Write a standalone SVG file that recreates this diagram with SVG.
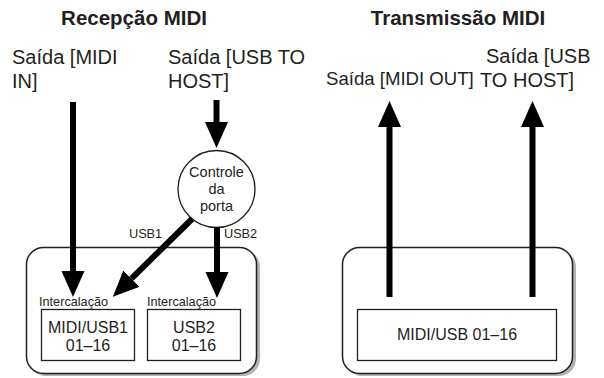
<svg xmlns="http://www.w3.org/2000/svg" width="604" height="378" viewBox="0 0 604 378">
<style>
text{font-family:"Liberation Sans",Arial,sans-serif;fill:#231f20}
.t{font-weight:bold;font-size:20.5px;text-anchor:middle}
.s{font-size:20px}
.m{font-size:16px;text-anchor:middle}
.c{font-size:14.5px;text-anchor:middle}
.i{font-size:12.7px}
.frame{fill:#fff;stroke:#231f20;stroke-width:1.5}
.shadow{fill:#b3b3b3}
.box{fill:#fff;stroke:#231f20;stroke-width:1.3}
.ar{stroke:#000;stroke-width:6;fill:none}
</style>
<defs>
<marker id="h" markerUnits="userSpaceOnUse" markerWidth="26" markerHeight="24" refX="0" refY="11.5" orient="auto">
<path d="M0,0 L26,11.5 L0,23 Z" fill="#000"/>
</marker>
</defs>
<text class="t" x="134" y="25">Recepção MIDI</text>
<text class="t" x="458" y="25">Transmissão MIDI</text>
<g id="src-midi-in"><text class="s" x="12" y="64">Saída [MIDI</text><text class="s" x="12" y="88">IN]</text></g>
<g id="src-usb-host"><text class="s" x="168" y="64">Saída [USB TO</text><text class="s" x="168" y="88">HOST]</text></g>
<g id="dst-midi-out"><text class="s" x="326" y="85" style="font-size:18.6px">Saída [MIDI OUT]</text></g>
<g id="dst-usb-host"><text class="s" x="486" y="63">Saída [USB</text><text class="s" x="480" y="87">TO HOST]</text></g>
<g id="recv-frame"><rect class="shadow" x="29" y="250" width="231" height="126" rx="17"/><rect class="frame" x="26.5" y="247.5" width="230" height="126" rx="17"/></g>
<g id="send-frame"><rect class="shadow" x="345" y="250" width="231" height="126" rx="17"/><rect class="frame" x="342.5" y="247.5" width="230" height="126" rx="17"/></g>
<g id="port-control"><circle cx="216.5" cy="189" r="38.5" fill="#fff" stroke="#231f20" stroke-width="1.3"/><text class="c" x="216.5" y="177">Controle</text><text class="c" x="216.5" y="194">da</text><text class="c" x="216.5" y="211">porta</text></g>
<g id="part-midi-usb1"><text class="i" x="39" y="306">Intercalação</text><rect class="box" x="41.5" y="309.5" width="93" height="51"/><text class="m" x="88" y="333">MIDI/USB1</text><text class="m" x="88" y="351">01–16</text></g>
<g id="part-usb2"><text class="i" x="147" y="306">Intercalação</text><rect class="box" x="147.5" y="309.5" width="93" height="51"/><text class="m" x="194" y="333">USB2</text><text class="m" x="194" y="351">01–16</text></g>
<g id="part-send"><rect class="box" x="357.5" y="309.5" width="199" height="51"/><text class="m" x="457" y="340">MIDI/USB 01–16</text></g>
<g id="connectors">
<line class="ar" x1="73" y1="102" x2="73" y2="271" marker-end="url(#h)"/>
<line class="ar" x1="216.5" y1="100" x2="216.5" y2="122" marker-end="url(#h)"/>
<line class="ar" x1="192" y1="219" x2="131.4" y2="278.6" marker-end="url(#h)"/>
<line class="ar" x1="217" y1="227" x2="217" y2="272" marker-end="url(#h)"/>
<line class="ar" x1="389.5" y1="297" x2="389.5" y2="127" marker-end="url(#h)"/>
<line class="ar" x1="532.5" y1="297" x2="532.5" y2="127" marker-end="url(#h)"/>
<text class="i" x="129" y="238">USB1</text>
<text class="i" x="224" y="238">USB2</text>
</g>
</svg>
